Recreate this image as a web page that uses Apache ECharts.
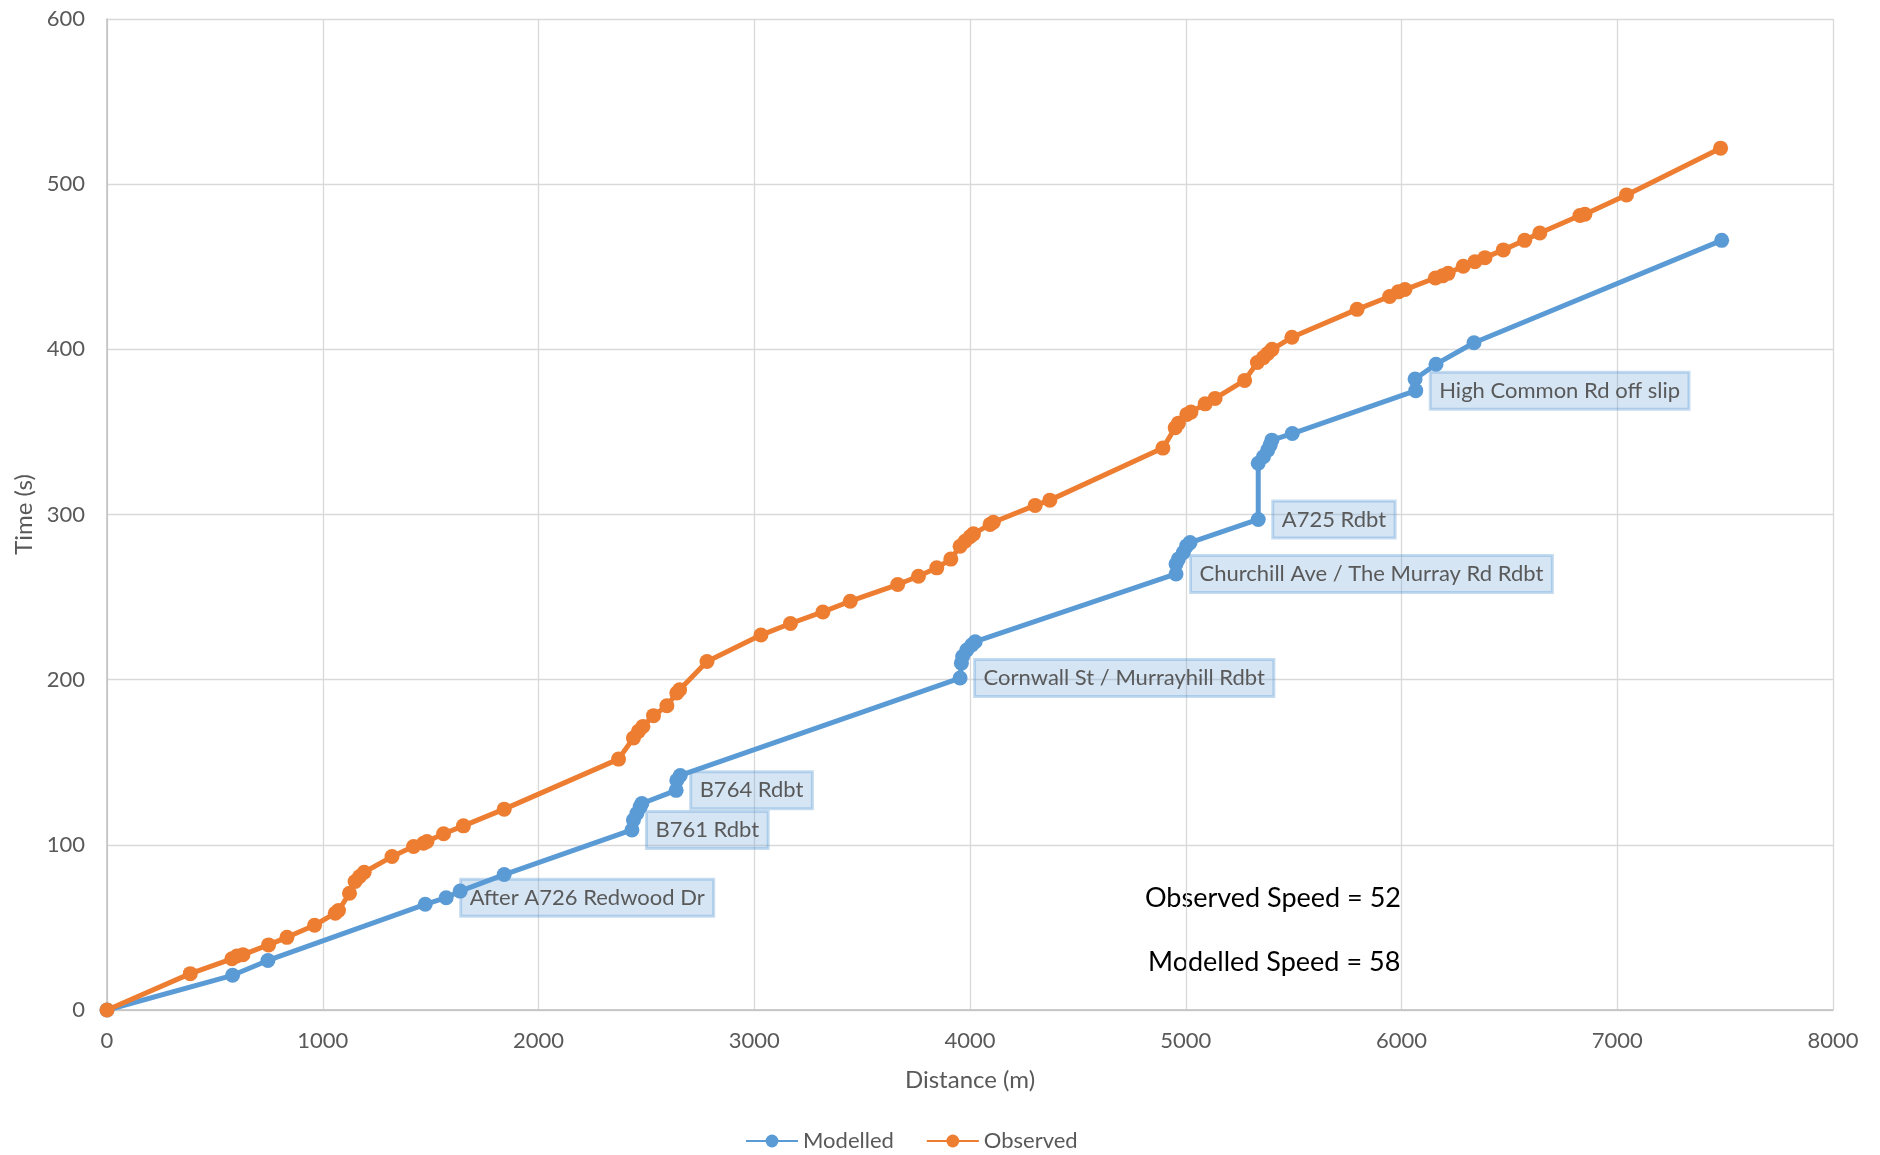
<!DOCTYPE html>
<html>
<head>
<meta charset="utf-8">
<script src="https://cdn.jsdelivr.net/npm/echarts@6/dist/echarts.min.js"></script>
<style>
html,body{margin:0;padding:0;background:#fff;}
#chart{width:1880px;height:1155px;}
</style>
</head>
<body>
<div id="chart"></div>
<script>
// ---- Data ----
const modelledDist = [0, 582, 746, 1475, 1572, 1637, 1841, 2433, 2440, 2456, 2471, 2479, 2638, 2641, 2657,
  3954, 3960, 3966, 3985, 4008, 4024, 4955, 4955, 4966, 4989, 5004, 5020, 5336, 5336, 5360, 5380, 5391, 5399,
  5494, 6066, 6063, 6160, 6336, 7484];
const modelledTime = [0, 21, 30, 64, 68, 72, 82, 109, 115, 119, 123, 125, 133, 139, 142,
  201, 210, 214, 218, 221, 223, 264, 270, 273, 277, 281, 283, 297, 331, 335, 339, 342, 345,
  349, 375, 382, 391, 404, 466];
const modelledLabels = ['', '', '', '', 'After A726 Redwood Dr', '', '', 'B761 Rdbt', '', '', '', '', 'B764 Rdbt', '', '',
  'Cornwall St / Murrayhill Rdbt', '', '', '', '', '', 'Churchill Ave / The Murray Rd Rdbt', '', '', '', '', '', 'A725 Rdbt', '', '', '', '', '',
  '', 'High Common Rd off slip', '', '', '', ''];

const observedDist = [0, 386, 579, 602, 630, 749, 834, 962, 1058, 1073, 1124, 1150, 1171, 1192, 1321, 1421, 1467, 1483,
  1560, 1652, 1841, 2371, 2440, 2463, 2484, 2533, 2595, 2641, 2654, 2781, 3031, 3168, 3318, 3445, 3665, 3761, 3846,
  3911, 3954, 3977, 4000, 4016, 4093, 4108, 4302, 4370, 4894, 4951, 4966, 5005, 5024, 5090, 5136, 5273, 5332, 5360,
  5380, 5400, 5492, 5794, 5945, 5985, 6016, 6157, 6190, 6216, 6286, 6340, 6387, 6472, 6571, 6641, 6827, 6850, 7043, 7479];
const observedTime = [0, 22, 31, 32.7, 33.5, 39.4, 44, 51.3, 58.6, 60.2, 70.7, 77.8, 80.8, 83.4, 92.9, 99, 101, 102,
  106.7, 111.5, 121.6, 151.9, 164.7, 168.7, 171.7, 178.2, 184.2, 191.9, 193.9, 211, 227, 234, 241, 247.5, 257.6, 262.6, 267.7,
  273, 280.8, 283.8, 286.5, 288.3, 294, 295.3, 305.5, 308.7, 340.2, 352.5, 355.3, 360.6, 362, 367, 370.3, 381.2, 392, 395,
  397.5, 400, 407.3, 424.2, 432, 434.8, 436.2, 443.2, 444.5, 446, 450.3, 453, 455.5, 460.2, 466, 470.4, 481, 481.8, 493.5, 521.8];

const xTicks = { min: 0, max: 8000, interval: 1000 };
const yTicks = { min: 0, max: 600, interval: 100 };
const seriesNames = ['Modelled', 'Observed'];
const speedTexts = ['Observed Speed = 52', 'Modelled Speed = 58'];

// ---- Chart ----
const FONT = 'Lato, "Liberation Sans", sans-serif';
const BLUE = '#5b9bd5', ORANGE = '#ed7d31', GREY = '#595959';

const labelStyle = {
  show: true,
  position: 'right',
  distance: 7,
  fontFamily: FONT,
  fontSize: 22,
  lineHeight: 24,
  color: GREY,
  backgroundColor: 'rgba(91,155,213,0.26)',
  borderColor: 'rgba(91,155,213,0.35)',
  borderWidth: 1.5,
  padding: [7, 9, 6, 9]
};

const modelledData = modelledDist.map((d, i) => {
  const item = { value: [d, modelledTime[i]] };
  if (modelledLabels[i]) item.label = Object.assign({}, labelStyle, { formatter: modelledLabels[i] });
  return item;
});
const observedData = observedDist.map((d, i) => [d, observedTime[i]]);

const chart = echarts.init(document.getElementById('chart'), null, { renderer: 'canvas' });
chart.setOption({
  animation: false,
  backgroundColor: '#fff',
  textStyle: { fontFamily: FONT },
  grid: { left: 107, right: 47, top: 19, bottom: 145 },
  legend: {
    data: seriesNames,
    left: 740,
    top: 1125,
    itemWidth: 52,
    itemHeight: 16,
    itemGap: 32,
    textStyle: { fontFamily: FONT, fontSize: 22, color: GREY }
  },
  xAxis: {
    type: 'value',
    min: xTicks.min, max: xTicks.max, interval: xTicks.interval,
    name: 'Distance (m)',
    nameLocation: 'middle',
    nameGap: 58,
    nameTextStyle: { fontFamily: FONT, fontSize: 24, color: GREY },
    axisLine: { show: true, lineStyle: { color: '#bfbfbf', width: 1.5 } },
    axisTick: { show: false },
    axisLabel: { fontFamily: FONT, fontSize: 22, color: GREY, margin: 20, formatter: v => String(v) },
    splitLine: { show: true, lineStyle: { color: '#d9d9d9', width: 1.3 } }
  },
  yAxis: {
    type: 'value',
    min: yTicks.min, max: yTicks.max, interval: yTicks.interval,
    name: 'Time (s)',
    nameLocation: 'middle',
    nameGap: 71,
    nameTextStyle: { fontFamily: FONT, fontSize: 24, color: GREY },
    axisLine: { show: true, lineStyle: { color: '#bfbfbf', width: 1.5 } },
    axisTick: { show: false },
    axisLabel: { fontFamily: FONT, fontSize: 22, color: GREY, margin: 22, formatter: v => String(v) },
    splitLine: { show: true, lineStyle: { color: '#d9d9d9', width: 1.3 } }
  },
  series: [
    {
      name: seriesNames[0],
      type: 'line',
      data: modelledData,
      symbol: 'circle',
      symbolSize: 15,
      showAllSymbol: true,
      itemStyle: { color: BLUE },
      lineStyle: { color: BLUE, width: 5 },
      z: 2
    },
    {
      name: seriesNames[1],
      type: 'line',
      data: observedData,
      symbol: 'circle',
      symbolSize: 15,
      showAllSymbol: true,
      itemStyle: { color: ORANGE },
      lineStyle: { color: ORANGE, width: 5 },
      z: 3
    }
  ],
  graphic: [
    { type: 'text', left: 1145, top: 885, style: { text: speedTexts[0], fontFamily: FONT, fontSize: 27, fill: '#000' } },
    { type: 'text', left: 1148, top: 949, style: { text: speedTexts[1], fontFamily: FONT, fontSize: 27, fill: '#000' } }
  ]
});
</script>
</body>
</html>
